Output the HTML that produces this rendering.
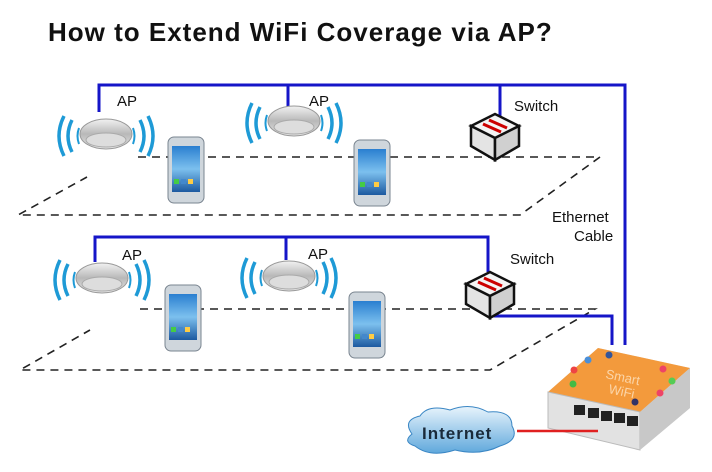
<!DOCTYPE html>
<html><head><meta charset="utf-8"><style>
html,body{margin:0;padding:0;background:#fff;width:712px;height:472px;overflow:hidden}
svg{display:block}
text{font-family:"Liberation Sans",sans-serif}
</style></head><body>
<svg width="712" height="472" viewBox="0 0 712 472" xmlns="http://www.w3.org/2000/svg">
<defs>
<linearGradient id="ap" x1="0" y1="0" x2="0" y2="1"><stop offset="0" stop-color="#f2f2f2"/><stop offset="0.5" stop-color="#b8b8b8"/><stop offset="1" stop-color="#e8e8e8"/></linearGradient>
<linearGradient id="scr" x1="0" y1="0" x2="0" y2="1"><stop offset="0" stop-color="#2a7fd0"/><stop offset="0.5" stop-color="#7cc0ee"/><stop offset="1" stop-color="#1d5aa0"/></linearGradient>
<linearGradient id="cl" x1="0" y1="0" x2="0" y2="1"><stop offset="0" stop-color="#e8f4fc"/><stop offset="1" stop-color="#5fa8dc"/></linearGradient>
<g id="apg">
<ellipse cx="0" cy="0" rx="26" ry="15" fill="url(#ap)" stroke="#999" stroke-width="1"/>
<ellipse cx="0" cy="6" rx="20" ry="7" fill="#ddd" stroke="#aaa"/>
<g fill="none" stroke="#1e9ad6" stroke-width="3.5">
<path d="M-34,-14 Q-42,2 -34,18"/><path d="M-42,-18 Q-52,2 -42,22"/><path d="M-27,-6 Q-30,2 -27,10" stroke-width="2"/>
<path d="M34,-14 Q42,2 34,18"/><path d="M42,-18 Q52,2 42,22"/><path d="M27,-6 Q30,2 27,10" stroke-width="2"/>
</g></g>
<g id="ph">
<rect x="0" y="0" width="36" height="66" rx="6" fill="#cfd6dc" stroke="#7a8590"/>
<rect x="4" y="9" width="28" height="46" fill="url(#scr)"/>
<rect x="6" y="42" width="5" height="5" fill="#4c4"/><rect x="13" y="42" width="5" height="5" fill="#48c"/><rect x="20" y="42" width="5" height="5" fill="#fc4"/>
</g>
<g id="sw">
<path d="M0,12 L24,0 L48,12 L24,24 Z" fill="#f4f4f4" stroke="#111" stroke-width="2.5"/>
<path d="M0,12 L0,32 L24,46 L24,24 Z" fill="#e4e4e4" stroke="#111" stroke-width="2.5"/>
<path d="M48,12 L48,32 L24,46 L24,24 Z" fill="#d0d0d0" stroke="#111" stroke-width="2.5"/>
<path d="M12,10 L30,18 M18,6 L36,14" stroke="#c00" stroke-width="3"/>
</g>
</defs>
<text x="48" y="41" font-size="26" font-weight="bold" fill="#111" letter-spacing="1">How to Extend WiFi Coverage via AP?</text>

<g fill="none" stroke="#222" stroke-width="1.6" stroke-dasharray="8,6">
<path d="M138,157 L600,157 L520,215 L18,215 L87,177"/>
<path d="M140,309 L595,309 L490,370 L20,370 L90,330"/>
</g>

<g fill="none" stroke="#1515c8" stroke-width="3">
<path d="M99,112 L99,85 L625,85 L625,345"/>
<path d="M288,108 L288,85"/>
<path d="M500,85 L500,118"/>
<path d="M95,262 L95,237 L488,237 L488,272"/>
<path d="M286,260 L286,237"/>
<path d="M490,316 L612,316 L612,345"/>
</g>

<use href="#apg" x="106" y="134"/>
<use href="#apg" x="294" y="121"/>
<use href="#apg" x="102" y="278"/>
<use href="#apg" x="289" y="276"/>
<use href="#ph" x="168" y="137"/>
<use href="#ph" x="354" y="140"/>
<use href="#ph" x="165" y="285"/>
<use href="#ph" x="349" y="292"/>
<use href="#sw" x="471" y="114"/>
<use href="#sw" x="466" y="272"/>

<g font-size="15" fill="#111">
<text x="117" y="106">AP</text><text x="309" y="106">AP</text>
<text x="122" y="260">AP</text><text x="308" y="259">AP</text>
<text x="514" y="111">Switch</text><text x="510" y="264">Switch</text>
<text x="552" y="222">Ethernet</text><text x="574" y="241">Cable</text>
</g>

<!-- router -->
<path d="M548,392 L598,348 L690,368 L690,408 L640,450 L548,428 Z" fill="#ddd"/>
<path d="M548,392 L598,348 L690,368 L640,412 Z" fill="#f39a3c"/>
<path d="M548,392 L640,412 L640,450 L548,428 Z" fill="#e2e2e2" stroke="#bbb"/>
<path d="M640,412 L690,368 L690,408 L640,450 Z" fill="#c8c8c8"/>
<g fill="#222"><rect x="574" y="405" width="11" height="10"/><rect x="588" y="408" width="11" height="10"/><rect x="601" y="411" width="11" height="10"/><rect x="614" y="413" width="11" height="10"/><rect x="627" y="416" width="11" height="10"/></g>
<text x="605" y="378" font-size="13" fill="#fbd5a8" transform="rotate(12 605 378)">Smart</text>
<text x="608" y="393" font-size="13" fill="#fbd5a8" transform="rotate(12 608 393)">WiFi</text>
<circle cx="588" cy="360" r="3.5" fill="#4a8fd8"/><circle cx="609" cy="355" r="3.5" fill="#335599"/><circle cx="574" cy="370" r="3.5" fill="#e44"/><circle cx="573" cy="384" r="3.5" fill="#4b4"/><circle cx="663" cy="369" r="3.5" fill="#e46"/><circle cx="672" cy="381" r="3.5" fill="#5c5"/><circle cx="660" cy="393" r="3.5" fill="#e46"/><circle cx="635" cy="402" r="3.5" fill="#336"/>

<line x1="517" y1="431" x2="598" y2="431" stroke="#e02020" stroke-width="2.5"/>
<path d="M412,434 Q402,420 420,416 Q428,404 450,410 Q470,402 488,412 Q512,410 512,426 Q520,440 500,446 Q480,456 455,450 Q430,458 415,446 Q402,442 412,434 Z" fill="url(#cl)" stroke="#3a86c4"/>
<text x="422" y="439" font-size="17" font-weight="bold" fill="#1a2a3a" letter-spacing="1">Internet</text>
</svg>
</body></html>
